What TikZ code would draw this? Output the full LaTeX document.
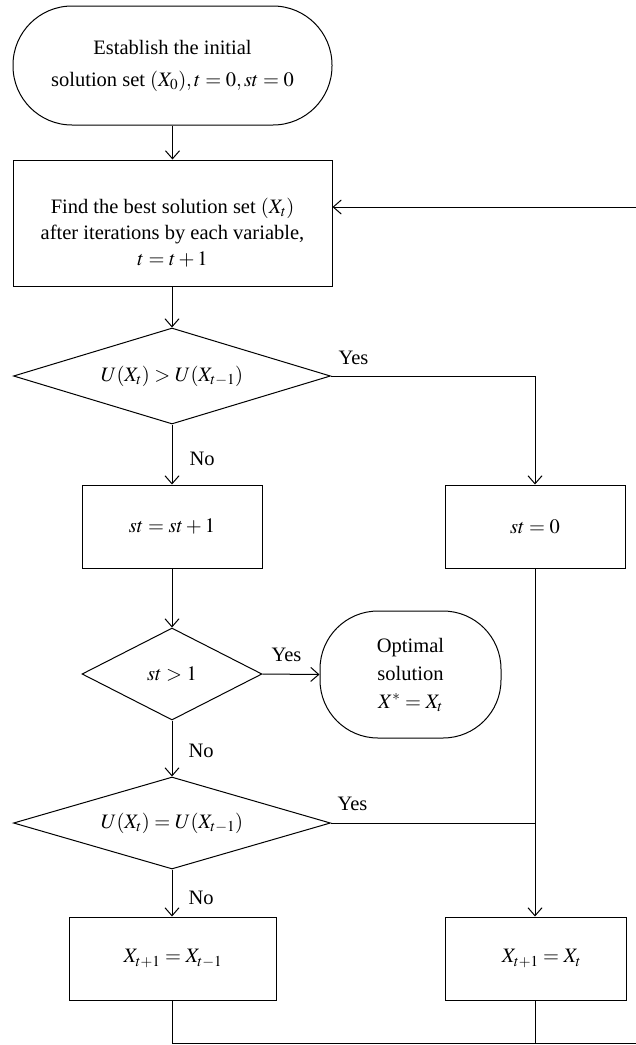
\documentclass[tikz,border=0pt]{standalone}
\usepackage{mathptmx}
\usepackage{fontspec}
\setmainfont{Liberation Serif}
\usetikzlibrary{shapes.geometric,arrows.meta}
\begin{document}
\begin{tikzpicture}[x=1pt,y=-1pt,line width=1pt,
  every node/.style={font=\fontsize{20.5}{26}\selectfont},
  proc/.style={draw, rectangle, inner sep=0pt, align=center},
  term/.style={draw, rectangle, rounded corners=#1, inner sep=0pt, align=center},
  dec/.style={draw, diamond, inner sep=0pt, aspect=3},
  txt/.style={inner sep=0pt, align=center},
  arr/.style={-{Straight Barb[length=8pt,width=14pt]}},
  lab/.style={anchor=base west, inner sep=0pt}]
\useasboundingbox (0,0) rectangle (636,1045);

% nodes
\node[term=59pt, minimum width=319pt, minimum height=119pt] (start) at (172.5,65.5)
  {Establish the initial\\[6pt] solution set $(X_0), t = 0, st = 0$};
\node[proc, minimum width=319pt, minimum height=126pt] (find) at (172.5,223) {};
\node[txt] (findtxt) at (172.5,233)
  {Find the best solution set $(X_t)$\\ after iterations by each variable,\\ $t = t + 1$};
\node[dec, minimum width=317pt, minimum height=96pt] (d1) at (172,376)
  {$U(X_t) > U(X_{t-1})$};
\node[proc, minimum width=180pt, minimum height=83pt] (st1) at (172,526.5) {$st = st + 1$};
\node[proc, minimum width=180pt, minimum height=83pt] (st0) at (535,526.5) {$st = 0$};
\node[dec, minimum width=180pt, minimum height=92pt, aspect=2] (d2) at (172,674) {$st > 1$};
\node[term=58pt, minimum width=181pt, minimum height=127pt] (opt) at (410.5,674.5)
  {Optimal\\[2pt] solution\\[2pt] $X^{*} = X_t$};
\node[dec, minimum width=317pt, minimum height=92pt] (d3) at (172,823)
  {$U(X_t) = U(X_{t-1})$};
\node[proc, minimum width=207pt, minimum height=83pt] (bl) at (173,958.5) {$X_{t+1} = X_{t-1}$};
\node[proc, minimum width=181pt, minimum height=83pt] (br) at (535.5,958.5) {\hspace*{12pt}$X_{t+1} = X_t$};

% labels
\node[lab] (y1) at (338,364) {Yes};
\node[lab] (n1) at (189,465) {No};
\node[lab] (y2) at (271,661) {Yes};
\node[lab] (n2) at (188,757) {No};
\node[lab] (y3) at (337,810) {Yes};
\node[lab] (n3) at (188,904) {No};

\coordinate (fb) at (636,207);
\coordinate (corner) at (636,1043);

% connectors
\draw[arr] (start.south) -- (find.north -| start.south);
\draw[arr] (find.south -| d1.north) -- (d1.north);
\draw[arr] (d1.east) -| (st0.north);
\draw[arr] (d1.south) -- (st1.north -| d1.south);
\draw[arr] (st1.south -| d2.north) -- (d2.north);
\draw[arr] (d2.east) -- (opt.west);
\draw[arr] (d2.south) -- (d3.north);
\draw[arr] (st0.south) -- (st0.south |- br.north);
\draw (d3.east) -- (d3.east -| st0.south);
\draw[arr] (d3.south) -- (d3.south |- bl.north);
\draw (d3.south |- bl.south) |- (corner);
\draw (br.south -| st0.south) -- (st0.south |- corner);
\draw[arr] (fb) -- (fb -| find.east);
\end{tikzpicture}
\end{document}
